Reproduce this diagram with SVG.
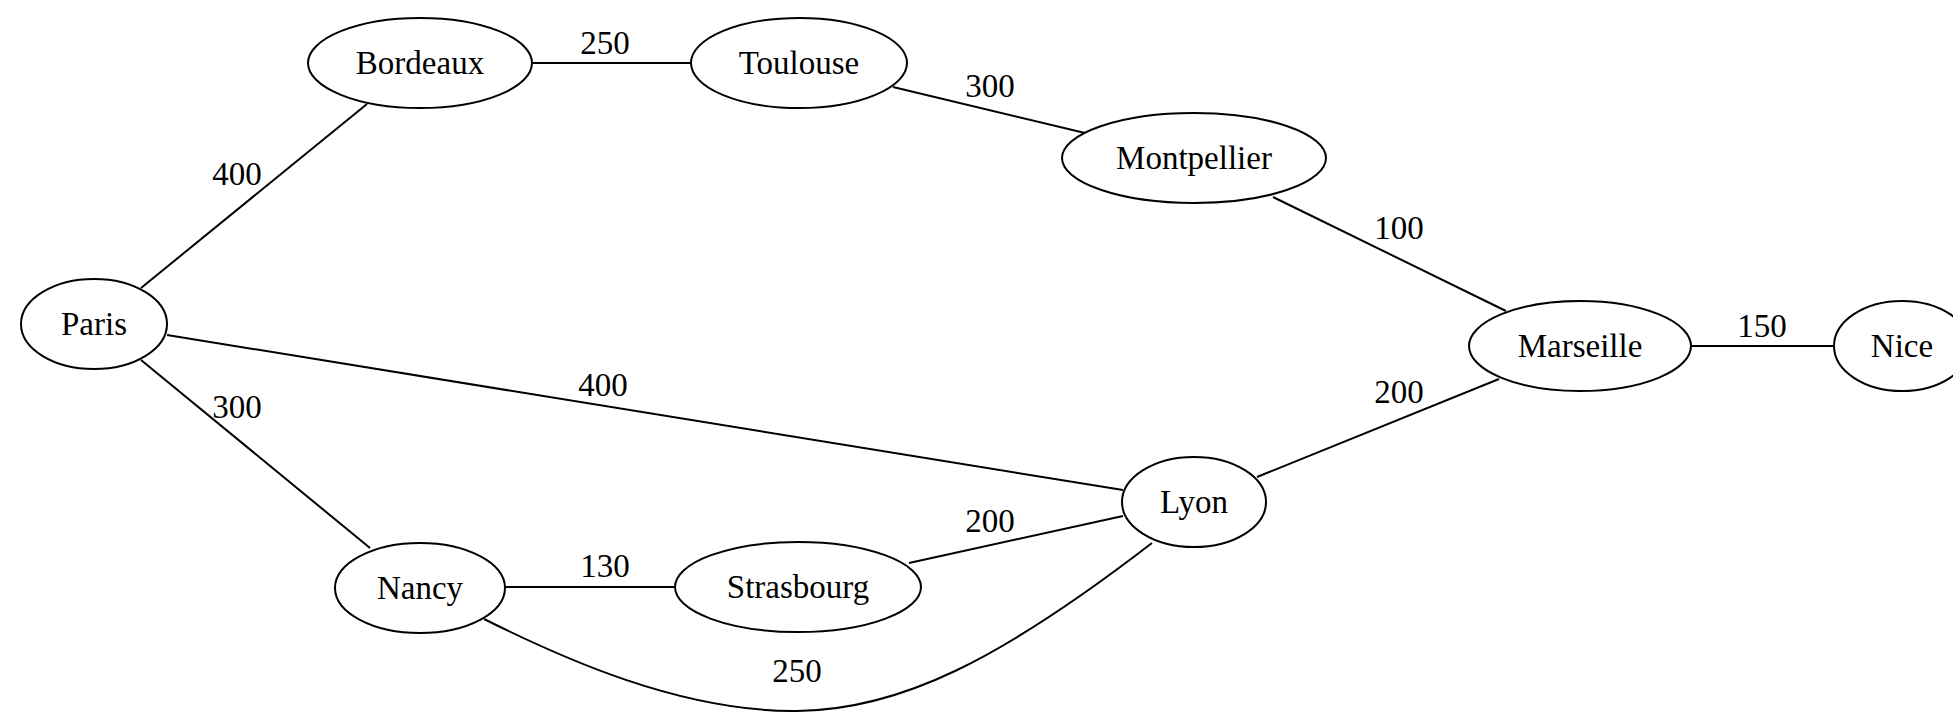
<svg xmlns="http://www.w3.org/2000/svg" width="1953" height="712" viewBox="0 0 1953 712">
<style>
.n ellipse{fill:#fff;stroke:#000;stroke-width:2}
text{font-family:"Liberation Serif","Times New Roman",serif;font-size:33px;fill:#000;text-anchor:middle}
.e path{fill:none;stroke:#000;stroke-width:2}
</style>
<rect width="1953" height="712" fill="#fff"/>
<g id="edges" class="e">
<path d="M141,288 L367,104"/>
<path d="M532,63 L691,63"/>
<path d="M893,87 L1085,133"/>
<path d="M1273,197 L1506,311"/>
<path d="M1691,346 L1834,346"/>
<path d="M1499,379 L1257,477"/>
<path d="M167,335 L1123,490"/>
<path d="M141,360 L370,548"/>
<path d="M505,587 L675,587"/>
<path d="M909,563 L1123,516"/>
<path d="M484,619 C560,657 680,712 797,711 C900,710 1000,660 1152,543"/>
<text x="237" y="185">400</text>
<text x="605" y="54">250</text>
<text x="990" y="97">300</text>
<text x="1399" y="239">100</text>
<text x="1762" y="337">150</text>
<text x="1399" y="403">200</text>
<text x="603" y="396">400</text>
<text x="237" y="418">300</text>
<text x="605" y="577">130</text>
<text x="990" y="532">200</text>
<text x="797" y="682">250</text>
</g>
<g id="paris" class="n"><ellipse cx="94" cy="324" rx="73" ry="45"/><text x="94" y="335">Paris</text></g>
<g id="bordeaux" class="n"><ellipse cx="420" cy="63" rx="112" ry="45"/><text x="420" y="74">Bordeaux</text></g>
<g id="toulouse" class="n"><ellipse cx="799" cy="63" rx="108" ry="45"/><text x="799" y="74">Toulouse</text></g>
<g id="montpellier" class="n"><ellipse cx="1194" cy="158" rx="132" ry="45"/><text x="1194" y="169">Montpellier</text></g>
<g id="marseille" class="n"><ellipse cx="1580" cy="346" rx="111" ry="45"/><text x="1580" y="357">Marseille</text></g>
<g id="nice" class="n"><ellipse cx="1902" cy="346" rx="68" ry="45"/><text x="1902" y="357">Nice</text></g>
<g id="lyon" class="n"><ellipse cx="1194" cy="502" rx="72" ry="45"/><text x="1194" y="513">Lyon</text></g>
<g id="nancy" class="n"><ellipse cx="420" cy="588" rx="85" ry="45"/><text x="420" y="599">Nancy</text></g>
<g id="strasbourg" class="n"><ellipse cx="798" cy="587" rx="123" ry="45"/><text x="798" y="598">Strasbourg</text></g>
</svg>
